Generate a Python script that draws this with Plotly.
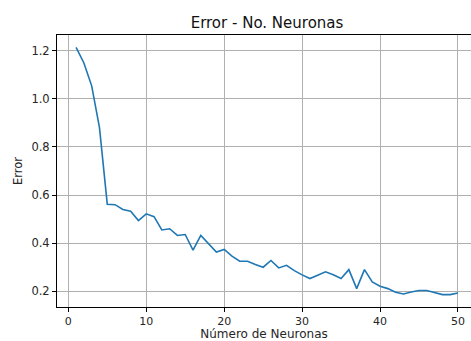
import plotly.graph_objects as go

neuronas = list(range(1, 51))
error = [1.214, 1.149, 1.054, 0.880, 0.562, 0.560, 0.540, 0.533, 0.494, 0.522,
         0.510, 0.455, 0.460, 0.432, 0.436, 0.371, 0.432, 0.397, 0.363, 0.374,
         0.346, 0.325, 0.325, 0.311, 0.300, 0.328, 0.297, 0.308, 0.286, 0.268,
         0.253, 0.267, 0.281, 0.269, 0.253, 0.290, 0.211, 0.290, 0.239, 0.221,
         0.211, 0.196, 0.189, 0.197, 0.203, 0.203, 0.193, 0.186, 0.186, 0.193]
x_ticks = [0, 10, 20, 30, 40, 50]
y_ticks = [0.2, 0.4, 0.6, 0.8, 1.0, 1.2]

font = "DejaVu Sans, sans-serif"
fig = go.Figure(go.Scatter(x=neuronas, y=error, mode="lines",
                           line=dict(color="#1f77b4", width=1.6)))

fig.update_layout(
    width=471, height=341,
    margin=dict(l=57, r=0, t=35, b=34, autoexpand=False),
    paper_bgcolor="white", plot_bgcolor="white",
    font=dict(family=font, color="#262626", size=11),
    showlegend=False,
    title=dict(text="Error - No. Neuronas", x=267/471, xanchor="center",
               xref="container", y=1 - 23/341, yref="container", yanchor="middle",
               automargin=False,
               font=dict(size=15, family=font, color="#111111")),
)
fig.update_xaxes(
    range=[-1.45, 51.67], tickvals=x_ticks, ticktext=[str(v) for v in x_ticks],
    automargin=False,
    showgrid=True, gridcolor="#b0b0b0", gridwidth=0.8,
    showline=True, linecolor="black", linewidth=1, mirror=True,
    ticks="outside", ticklen=4, tickcolor="black", zeroline=False,
    tickfont=dict(size=11, family=font, color="#262626"),
    title=dict(text="Número de Neuronas", standoff=5,
               font=dict(size=12, family=font, color="#262626")),
)
fig.update_yaxes(
    range=[0.1346, 1.2654], tickvals=y_ticks, ticktext=[f"{v:.1f}" for v in y_ticks],
    automargin=False,
    showgrid=True, gridcolor="#b0b0b0", gridwidth=0.8,
    showline=True, linecolor="black", linewidth=1,
    ticks="outside", ticklen=4, tickcolor="black", zeroline=False,
    tickfont=dict(size=11.5, family=font, color="#262626"),
    title=dict(text="Error", standoff=6,
               font=dict(size=11.5, family=font, color="#262626")),
)
fig.write_html("out.html", config={"displayModeBar": False},
               post_script="document.body.style.margin='0';document.body.style.overflow='hidden';")
